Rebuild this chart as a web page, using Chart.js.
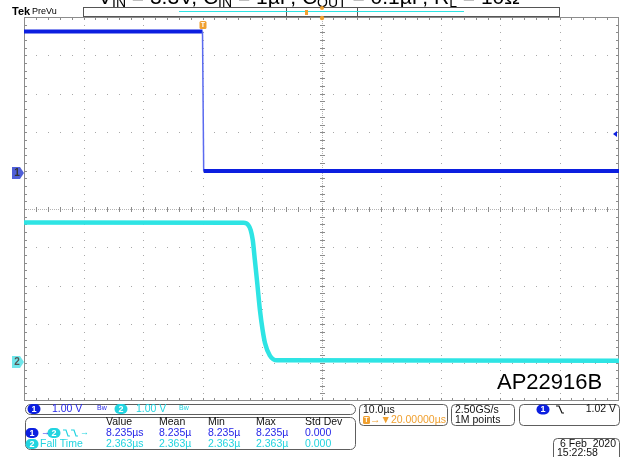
<!DOCTYPE html>
<html>
<head>
<meta charset="utf-8">
<script src="https://cdn.jsdelivr.net/npm/chart.js@4.4.1/dist/chart.umd.min.js"></script>
<style>
  html, body { margin: 0; padding: 0; background: #fff; }
  #wrap { width: 631px; height: 457px; position: relative; }
</style>
</head>
<body>
<div id="wrap"><canvas id="scope"></canvas></div>
<script>
// ------------------------------------------------------------
// data (time in us, volts)
// ------------------------------------------------------------
const ch1Time = [-30.0, 0.0, 0.2, 70.0];
const ch1Volt = [3.69, 3.69, 0.06, 0.06];

const ch2Time = [-30.0, 6.9, 7.7, 8.1, 8.45, 8.8, 9.2, 9.65, 10.1, 10.5, 11.3, 12.5, 70.0];
const ch2Volt = [3.63, 3.62, 3.56, 3.43, 3.17, 2.65, 2.05, 1.35, 0.83, 0.49, 0.17, 0.04, 0.03];

const timeRange = [-30, 70];        // 10 us/div, trigger 20 us left of centre
const ch1Range = [-5.93, 4.07];     // 1.00 V/div
const ch2Range = [-1.02, 8.98];     // 1.00 V/div
const trigLevel = 1.02;

const measHead = ["Value", "Mean", "Min", "Max", "Std Dev"];
const measRow1 = ["8.235\u00b5s", "8.235\u00b5", "8.235\u00b5", "8.235\u00b5", "0.000"];
const measRow2 = ["2.363\u00b5s", "2.363\u00b5", "2.363\u00b5", "2.363\u00b5", "0.000"];

const CH1 = "#0c1fe0";
const CH2 = "#2ee4e4";
const CH1_TXT = "#2626e8";
const CH2_TXT = "#22d4e0";
const ORANGE = "#f0a030";
const FONT = '"Liberation Sans", Arial, sans-serif';

function pts(xs, ys) {
  return xs.map((x, i) => ({ x: x, y: ys[i] }));
}

function rbox(ctx, x, y, w, h, r) {
  ctx.beginPath();
  ctx.roundRect(x + 0.5, y + 0.5, w, h, r);
  ctx.strokeStyle = "#5e5e5e";
  ctx.lineWidth = 1;
  ctx.stroke();
}

function badge(ctx, cx, cy, txt, color) {
  ctx.fillStyle = color;
  ctx.beginPath();
  ctx.roundRect(cx - 6.5, cy - 5, 13, 10, 5);
  ctx.fill();
  ctx.fillStyle = "#fff";
  ctx.font = "bold 9px " + FONT;
  ctx.textAlign = "center";
  ctx.textBaseline = "middle";
  ctx.fillText(txt, cx, cy + 0.5);
}

function txt(ctx, s, x, y, color, font, align) {
  ctx.fillStyle = color;
  ctx.font = font || ("10.5px " + FONT);
  ctx.textAlign = align || "left";
  ctx.textBaseline = "middle";
  ctx.fillText(s, x, y);
}

// ------------------------------------------------------------
// graticule: dotted divisions, ticked centre lines, ticked frame
// ------------------------------------------------------------
const graticule = {
  id: "graticule",
  beforeDatasetsDraw(chart) {
    const ctx = chart.ctx;
    const { left, top, right, bottom } = chart.chartArea;
    const dx = (right - left) / 10, dy = (bottom - top) / 10;
    const cx = Math.round(left + 5 * dx), cy = Math.round(top + 5 * dy);
    ctx.save();
    ctx.fillStyle = "#a8a8a8";
    for (let i = 1; i < 10; i++) {
      if (i === 5) continue;
      const x = Math.round(left + i * dx);
      for (let j = 1; j < 50; j++) ctx.fillRect(x, Math.round(top + j * dy / 5), 1, 1);
      const y = Math.round(top + i * dy);
      for (let j = 1; j < 50; j++) ctx.fillRect(Math.round(left + j * dx / 5), y, 1, 1);
    }
    // centre lines
    ctx.fillStyle = "#b4b4b4";
    for (let x = left; x < right; x += 2) ctx.fillRect(x, cy, 1, 1);
    for (let y = top; y < bottom; y += 2) ctx.fillRect(cx, y, 1, 1);
    ctx.fillStyle = "#8c8c8c";
    for (let j = 1; j < 50; j++) {
      ctx.fillRect(Math.round(left + j * dx / 5), cy - 2, 1, 5);
      ctx.fillRect(cx - 2, Math.round(top + j * dy / 5), 5, 1);
      // frame ticks
      ctx.fillRect(Math.round(left + j * dx / 5), top, 1, 3);
      ctx.fillRect(Math.round(left + j * dx / 5), bottom - 3, 1, 3);
      ctx.fillRect(left, Math.round(top + j * dy / 5), 3, 1);
      ctx.fillRect(right - 3, Math.round(top + j * dy / 5), 3, 1);
    }
    ctx.strokeStyle = "#8c8c8c";
    ctx.lineWidth = 1;
    ctx.strokeRect(left + 0.5, top + 0.5, right - left - 1, bottom - top - 1);
    ctx.restore();
  }
};

// ------------------------------------------------------------
// screen furniture: markers, header, readout boxes
// ------------------------------------------------------------
const screen = {
  id: "screen",
  afterDraw(chart) {
    const ctx = chart.ctx;
    const { left, top, right, bottom } = chart.chartArea;
    const xs = chart.scales.x, y1 = chart.scales.y1, y2 = chart.scales.y2;
    ctx.save();

    // cut-off caption at the very top
    let x = 98;
    const big = "21px " + FONT, sub = "14px " + FONT;
    const parts = [["V", big], ["IN", sub], [" = 3.3V, C", big], ["IN", sub], [" = 1\u00b5F, C", big],
                   ["OUT", sub], [" = 0.1\u00b5F, R", big], ["L", sub], [" = 10\u03a9", big]];
    ctx.fillStyle = "#000";
    ctx.textAlign = "left";
    ctx.textBaseline = "alphabetic";
    parts.forEach(p => {
      ctx.font = p[1];
      ctx.fillText(p[0], x, p[1] === big ? 4 : 7);
      x += ctx.measureText(p[0]).width;
    });

    // Tek PreVu + record bar
    ctx.fillStyle = "#fff";
    ctx.fillRect(0, 7, 631, 10);
    ctx.fillStyle = "#000";
    ctx.font = "bold 11px " + FONT;
    ctx.fillText("Tek", 12, 15);
    ctx.font = "9px " + FONT;
    ctx.fillText("PreVu", 32, 14);
    ctx.strokeStyle = "#555";
    ctx.lineWidth = 1;
    ctx.strokeRect(83.5, 7.5, 476, 9);
    ctx.beginPath();
    ctx.moveTo(286.5, 7.5); ctx.lineTo(286.5, 16.5);
    ctx.moveTo(357.5, 7.5); ctx.lineTo(357.5, 16.5);
    ctx.stroke();
    ctx.strokeStyle = CH2;
    ctx.beginPath(); ctx.moveTo(179, 11.5); ctx.lineTo(464, 11.5); ctx.stroke();
    ctx.fillStyle = ORANGE;
    ctx.fillRect(305, 10, 3, 5);
    ctx.beginPath(); ctx.arc(322, 8, 2, 0, Math.PI * 2); ctx.fill();
    ctx.beginPath(); ctx.arc(322, 18, 2.2, 0, Math.PI * 2); ctx.fill();

    // trigger T marker
    const tx = Math.round(xs.getPixelForValue(0));
    ctx.fillStyle = ORANGE;
    ctx.beginPath(); ctx.roundRect(tx - 3.5, 21, 7, 8, 1.5); ctx.fill();
    txt(ctx, "T", tx, 25.5, "#fff", "bold 7px " + FONT, "center");

    // channel ground tags
    [[y1, "1", "#4f5fd8", "#333"], [y2, "2", "#6fe6ea", "#555"]].forEach(t => {
      const gy = Math.round(t[0].getPixelForValue(0));
      ctx.fillStyle = t[2];
      ctx.beginPath();
      ctx.moveTo(12, gy - 6); ctx.lineTo(20, gy - 6); ctx.lineTo(24, gy);
      ctx.lineTo(20, gy + 6); ctx.lineTo(12, gy + 6); ctx.closePath();
      ctx.fill();
      txt(ctx, t[1], 17, gy + 0.5, t[3], "bold 10px " + FONT, "center");
    });

    // trigger level marker on the right
    const ty = Math.round(y1.getPixelForValue(trigLevel));
    ctx.fillStyle = CH1;
    ctx.beginPath(); ctx.moveTo(613, ty); ctx.lineTo(617, ty - 3); ctx.lineTo(617, ty + 3); ctx.closePath(); ctx.fill();

    // part label
    txt(ctx, "AP22916B", 497, 383, "#000", "22px " + FONT);

    // channel row
    rbox(ctx, 25, 404, 330, 10, 5);
    badge(ctx, 34, 409, "1", CH1);
    txt(ctx, "1.00 V", 52, 409.5, CH1_TXT);
    txt(ctx, "Bw", 97, 408.5, CH1_TXT, "7px " + FONT);
    badge(ctx, 121, 409, "2", CH2_TXT);
    txt(ctx, "1.00 V", 136, 409.5, CH2_TXT);
    txt(ctx, "Bw", 179, 408.5, CH2_TXT, "7px " + FONT);

    // measurement box
    rbox(ctx, 25, 417, 330, 32, 5);
    const cols = [106, 159, 208, 256, 305];
    measHead.forEach((h, i) => txt(ctx, h, cols[i], 422.5, "#111"));
    measRow1.forEach((v, i) => txt(ctx, v, cols[i], 433, CH1_TXT));
    measRow2.forEach((v, i) => txt(ctx, v, cols[i], 444, CH2_TXT));
    badge(ctx, 32, 433, "1", CH1);
    txt(ctx, "\u2192", 41, 433, CH1_TXT, "9px " + FONT);
    badge(ctx, 54, 433, "2", CH2_TXT);
    ctx.strokeStyle = CH2_TXT;
    ctx.lineWidth = 1.2;
    ctx.beginPath();
    for (let k = 0; k < 2; k++) {
      const x0 = 63 + k * 8;
      ctx.moveTo(x0, 430); ctx.lineTo(x0 + 3, 430); ctx.lineTo(x0 + 5, 436); ctx.lineTo(x0 + 7, 436);
    }
    ctx.stroke();
    txt(ctx, "\u2192", 80, 433, CH2_TXT, "9px " + FONT);
    badge(ctx, 32, 444, "2", CH2_TXT);
    txt(ctx, "Fall Time", 40, 444, CH2_TXT);

    // timebase box
    rbox(ctx, 359, 404, 88, 21, 4);
    txt(ctx, "10.0\u00b5s", 363, 410, "#111");
    ctx.fillStyle = ORANGE;
    ctx.beginPath(); ctx.roundRect(363, 416, 7, 8, 1.5); ctx.fill();
    txt(ctx, "T", 366.5, 420.5, "#fff", "bold 7px " + FONT, "center");
    txt(ctx, "\u2192\u25bc20.00000\u00b5s", 370, 420, ORANGE);

    // sample box
    rbox(ctx, 451, 404, 63, 21, 4);
    txt(ctx, "2.50GS/s", 455, 410, "#111");
    txt(ctx, "1M points", 455, 420, "#111");

    // trigger box
    rbox(ctx, 519, 404, 100, 21, 4);
    badge(ctx, 543, 409.5, "1", CH1);
    ctx.strokeStyle = "#111";
    ctx.lineWidth = 1.2;
    ctx.beginPath();
    ctx.moveTo(556, 406); ctx.lineTo(559, 406); ctx.lineTo(562, 413); ctx.lineTo(564, 413);
    ctx.stroke();
    txt(ctx, "1.02 V", 616, 409.5, "#111", null, "right");

    // date box
    rbox(ctx, 553, 438, 66, 24, 4);
    txt(ctx, "6 Feb  2020", 616, 444, "#111", null, "right");
    txt(ctx, "15:22:58", 557, 453.5, "#111");

    ctx.restore();
  }
};

// ------------------------------------------------------------
// chart
// ------------------------------------------------------------
const steep = c => Math.abs(c.p1.parsed.x - c.p0.parsed.x) < 0.5;

new Chart(document.getElementById("scope"), {
  type: "line",
  data: {
    datasets: [
      {
        label: "CH1",
        data: pts(ch1Time, ch1Volt),
        yAxisID: "y1",
        borderColor: CH1,
        borderWidth: 4,
        pointRadius: 0,
        segment: {
          borderWidth: c => steep(c) ? 1.5 : 4,
          borderColor: c => steep(c) ? "#5a6af0" : CH1
        }
      },
      {
        label: "CH2",
        data: pts(ch2Time, ch2Volt),
        yAxisID: "y2",
        borderColor: CH2,
        borderWidth: 4.5,
        pointRadius: 0,
        cubicInterpolationMode: "monotone"
      }
    ]
  },
  options: {
    responsive: true,
    maintainAspectRatio: false,
    animation: false,
    layout: { padding: { left: 24, top: 17, right: 12, bottom: 56 } },
    plugins: { legend: { display: false }, tooltip: { enabled: false } },
    scales: {
      x: { type: "linear", min: timeRange[0], max: timeRange[1], display: false },
      y1: { type: "linear", min: ch1Range[0], max: ch1Range[1], display: false },
      y2: { type: "linear", min: ch2Range[0], max: ch2Range[1], display: false }
    }
  },
  plugins: [graticule, screen]
});
</script>
</body>
</html>
